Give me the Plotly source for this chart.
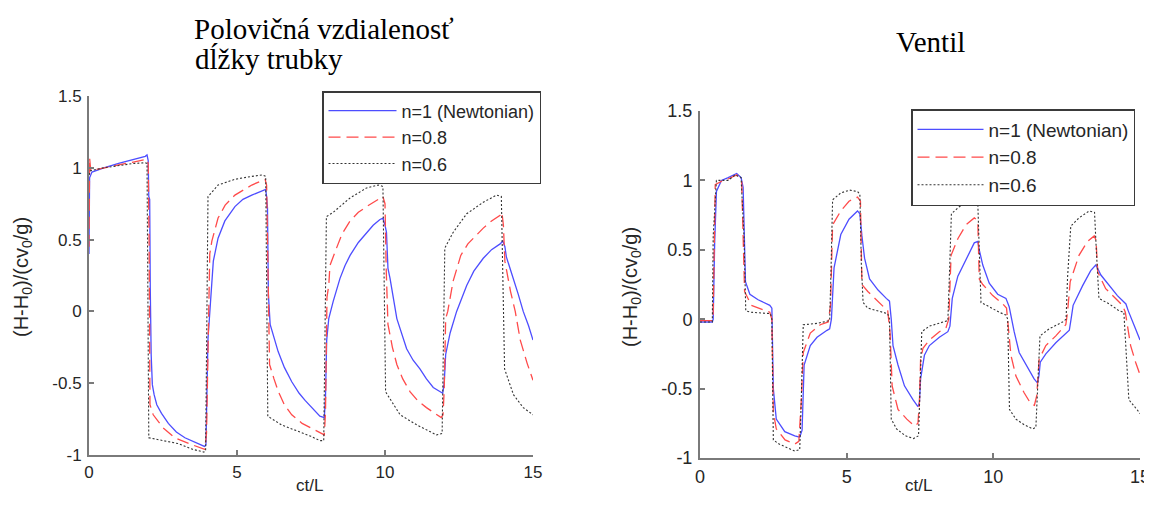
import plotly.graph_objects as go

# The page adds an 8px body margin, so the figure is drawn 8px in and 8px down.
OFF = 8
REF_W, REF_H = 1152, 505
FW, FH = REF_W - OFF, REF_H - 2 * OFF


def px(x):
    return (x - OFF) / FW


def py(y):
    return 1 - (y - OFF) / FH


# ---------------- data: left panel (half pipe length) ----------------
L_t_n1 = [0, 0.02, 0.1, 0.5, 1.0, 1.5, 1.9, 1.96, 2.0,
          2.02, 2.05, 2.07, 2.1, 2.14, 2.2, 2.29, 2.45, 2.68, 2.95, 3.24, 3.55, 3.9,
          3.95, 3.98, 4.02, 4.1, 4.2, 4.36, 4.59, 4.93, 5.2, 5.5, 5.89, 5.97,
          6.0, 6.03, 6.06, 6.12, 6.39, 6.6, 6.85, 7.1, 7.3, 7.64, 7.8, 7.95,
          7.99, 8.03, 8.1, 8.25, 8.48, 8.65, 8.82, 9.1, 9.38, 9.6, 9.83, 9.93,
          10.0, 10.05, 10.1, 10.17, 10.4, 10.55, 10.73, 10.95, 11.18, 11.4, 11.63, 11.95,
          12.0, 12.05, 12.2, 12.42, 12.6, 12.76, 13.0, 13.32, 13.6, 13.89, 13.98,
          14.05, 14.1, 14.34, 14.5, 14.67, 14.85, 15.0]
L_y_n1 = [0.4, 0.93, 0.97, 1.0, 1.03, 1.06, 1.08, 1.09, 1.05,
          0.8, 0.78, 0.16, -0.3, -0.51, -0.58, -0.65, -0.71, -0.78, -0.84, -0.88, -0.91, -0.94,
          -0.93, -0.6, -0.19, 0.05, 0.35, 0.51, 0.63, 0.73, 0.78, 0.81, 0.84, 0.85,
          0.8, 0.72, 0.12, -0.09, -0.28, -0.39, -0.49, -0.57, -0.62, -0.69, -0.73, -0.74,
          -0.6, -0.2, -0.05, 0.07, 0.23, 0.32, 0.39, 0.48, 0.55, 0.6, 0.64, 0.65,
          0.6, 0.55, 0.3, 0.23, -0.05, -0.15, -0.26, -0.34, -0.4, -0.47, -0.53, -0.57,
          -0.5, -0.3, -0.15, 0.0, 0.1, 0.18, 0.28, 0.37, 0.43, 0.47, 0.49,
          0.45, 0.38, 0.23, 0.12, 0.0, -0.1, -0.2]

L_t_n08 = [0, 0.02, 0.06, 0.5, 1.0, 1.5, 1.95, 2.0,
           2.03, 2.06, 2.17, 2.5, 2.9, 3.5, 3.91,
           3.97, 4.02, 4.08, 4.15, 4.36, 4.6, 4.93, 5.5, 5.95,
           6.0, 6.04, 6.1, 6.25, 6.4, 6.6, 6.85, 7.2, 7.64, 7.95,
           7.99, 8.04, 8.1, 8.14, 8.36, 8.55, 8.82, 9.1, 9.38, 9.83, 9.93,
           10.0, 10.04, 10.1, 10.25, 10.4, 10.6, 10.85, 11.1, 11.4, 11.9, 11.96,
           12.0, 12.05, 12.12, 12.3, 12.56, 12.8, 13.08, 13.32, 13.6, 13.89, 13.95,
           14.0, 14.05, 14.24, 14.4, 14.57, 14.8, 15.0]
L_y_n08 = [0.45, 1.07, 0.98, 1.0, 1.02, 1.04, 1.06, 1.03,
           0.5, -0.65, -0.72, -0.81, -0.88, -0.93, -0.96,
           -0.85, -0.2, 0.4, 0.49, 0.65, 0.74, 0.81, 0.88, 0.92,
           0.88, 0.3, -0.37, -0.47, -0.56, -0.65, -0.72, -0.78, -0.83, -0.86,
           -0.7, 0.1, 0.18, 0.32, 0.44, 0.54, 0.63, 0.69, 0.73, 0.79, 0.8,
           0.75, 0.3, -0.09, -0.25, -0.37, -0.47, -0.56, -0.62, -0.67, -0.74, -0.72,
           -0.55, -0.05, 0.0, 0.21, 0.39, 0.47, 0.53, 0.58, 0.63, 0.67, 0.69,
           0.6, 0.35, 0.14, 0.0, -0.2, -0.36, -0.48]

L_t_n06 = [0, 0.05, 0.5, 1.0, 1.5, 1.9, 1.96,
           2.02, 2.5, 3.0, 3.5, 3.88, 3.94,
           4.02, 4.36, 4.93, 5.5, 5.85, 5.97,
           6.04, 6.5, 7.0, 7.5, 7.8, 7.93,
           8.02, 8.25, 8.82, 9.38, 9.78, 9.93,
           10.02, 10.51, 11.07, 11.74, 11.93,
           12.02, 12.3, 12.76, 13.32, 13.77, 13.93,
           14.04, 14.34, 14.67, 15.0]
L_y_n06 = [0.95, 0.98, 1.0, 1.015, 1.03, 1.035, 1.03,
           -0.88, -0.9, -0.92, -0.96, -0.98, -0.97,
           0.8, 0.88, 0.92, 0.94, 0.95, 0.94,
           -0.73, -0.79, -0.83, -0.87, -0.9, -0.9,
           0.66, 0.69, 0.79, 0.86, 0.88, 0.87,
           -0.56, -0.72, -0.79, -0.86, -0.85,
           0.44, 0.55, 0.68, 0.76, 0.81, 0.8,
           -0.4, -0.58, -0.67, -0.72]

# ---------------- data: right panel (valve) ----------------
R_t_n1 = [0, 0.42, 0.45, 0.5, 0.56, 0.73, 0.96, 1.25, 1.4, 1.47,
          1.55, 1.70, 1.98, 2.38, 2.45, 2.5, 2.6, 2.89, 3.23, 3.4,
          3.48, 3.55, 3.76, 3.99, 4.33, 4.42, 4.48, 4.57, 4.8, 5.08, 5.37,
          5.45, 5.52, 5.61, 5.78, 6.07, 6.35, 6.46, 6.52, 6.58, 6.75, 6.97,
          7.26, 7.43, 7.48, 7.52, 7.65, 7.82, 8.16, 8.45, 8.52, 8.6, 8.79,
          9.07, 9.35, 9.47, 9.52, 9.64, 9.86, 10.15, 10.43, 10.54, 10.62,
          10.71, 10.88, 11.11, 11.39, 11.51, 11.56, 11.6, 11.79, 12.13,
          12.47, 12.59, 12.65, 12.72, 13.04, 13.32, 13.49, 13.55, 13.66,
          13.95, 14.23, 14.52, 14.6, 14.85, 15.0]
R_y_n1 = [-0.02, -0.02, 0.0, 0.55, 0.92, 1.0, 1.02, 1.05, 1.02, 0.95,
          0.27, 0.18, 0.14, 0.1, 0.08, -0.5, -0.72, -0.81, -0.84, -0.85,
          -0.8, -0.33, -0.19, -0.13, -0.08, -0.07, 0.0, 0.37, 0.61, 0.72, 0.78,
          0.76, 0.6, 0.44, 0.29, 0.21, 0.15, 0.13, 0.0, -0.19, -0.33, -0.48,
          -0.58, -0.63, -0.6, -0.43, -0.26, -0.19, -0.13, -0.09, -0.05, 0.15, 0.31,
          0.43, 0.55, 0.56, 0.5, 0.39, 0.26, 0.18, 0.15, 0.09, 0.0,
          -0.09, -0.24, -0.33, -0.43, -0.46, -0.4, -0.31, -0.25, -0.17,
          -0.1, -0.08, 0.0, 0.1, 0.24, 0.35, 0.39, 0.37, 0.32,
          0.24, 0.17, 0.11, 0.06, -0.07, -0.15]

R_t_n08 = [0, 0.42, 0.45, 0.5, 0.52, 0.7, 0.96, 1.25, 1.42, 1.47,
           1.52, 1.75, 2.38, 2.45, 2.5, 2.6, 2.9, 3.23, 3.37, 3.45,
           3.52, 3.76, 4.1, 4.37, 4.45, 4.52, 4.8, 5.08, 5.37, 5.47,
           5.52, 5.72, 6.07, 6.4, 6.48, 6.55, 6.75, 7.05, 7.31, 7.43,
           7.48, 7.52, 7.6, 7.82, 8.16, 8.39, 8.48, 8.56, 8.79, 9.07,
           9.35, 9.47, 9.52, 9.64, 9.98, 10.32, 10.45, 10.49, 10.6, 10.77,
           11.05, 11.28, 11.4, 11.48, 11.56, 11.79, 12.13, 12.47, 12.53, 12.62,
           12.92, 13.21, 13.44, 13.5, 13.56, 13.83, 14.17, 14.4, 14.5, 14.57,
           14.68, 14.85, 15.0]
R_y_n08 = [-0.01, -0.01, 0.05, 0.7, 0.97, 0.99, 1.01, 1.04, 1.0, 0.6,
           0.2, 0.1, 0.05, 0.0, -0.67, -0.79, -0.87, -0.9, -0.88, -0.6,
           -0.24, -0.1, -0.04, -0.02, 0.1, 0.68, 0.78, 0.85, 0.88, 0.85,
           0.25, 0.2, 0.13, 0.06, -0.1, -0.48, -0.65, -0.72, -0.77, -0.75,
           -0.6, -0.29, -0.21, -0.15, -0.09, -0.06, 0.0, 0.46, 0.58, 0.68,
           0.73, 0.71, 0.29, 0.25, 0.17, 0.11, 0.08, 0.0, -0.26, -0.41,
           -0.53, -0.61, -0.62, -0.55, -0.29, -0.19, -0.12, -0.04, 0.05, 0.27,
           0.46, 0.56, 0.6, 0.57, 0.34, 0.22, 0.15, 0.1, 0.05, -0.05,
           -0.19, -0.31, -0.4]

R_t_n06 = [0, 0.42, 0.45, 0.56, 0.96, 1.2, 1.4, 1.5, 1.56, 1.75,
           2.4, 2.45, 2.5, 2.7, 3.23, 3.4, 3.45, 3.52, 4.0, 4.42,
           4.46, 4.52, 4.8, 5.1, 5.37, 5.45, 5.5, 5.56, 5.72, 6.17,
           6.4, 6.46, 6.52, 6.7, 7.0, 7.28, 7.45, 7.5, 7.56, 7.82,
           8.28, 8.45, 8.5, 8.57, 8.84, 9.13, 9.35, 9.47, 9.52, 9.58,
           9.86, 10.2, 10.43, 10.49, 10.55, 10.77, 11.05, 11.34, 11.45, 11.51,
           11.59, 11.9, 12.36, 12.48, 12.53, 12.64, 12.92, 13.27, 13.45, 13.51,
           13.6, 13.95, 14.29, 14.45, 14.51, 14.62, 14.97, 15.0]
R_y_n06 = [-0.02, -0.02, 0.6, 1.0, 1.0, 1.04, 1.02, 0.6, 0.06, 0.05,
           0.04, 0.0, -0.87, -0.9, -0.95, -0.94, -0.6, -0.04, -0.03, -0.01,
           0.3, 0.86, 0.91, 0.93, 0.92, 0.9, 0.4, 0.12, 0.08, 0.05,
           0.04, 0.0, -0.72, -0.79, -0.84, -0.86, -0.84, -0.5, -0.09, -0.05,
           -0.02, -0.01, 0.3, 0.76, 0.81, 0.85, 0.86, 0.84, 0.5, 0.12,
           0.09, 0.05, 0.03, 0.0, -0.65, -0.72, -0.76, -0.79, -0.78, -0.5,
           -0.12, -0.07, -0.02, 0.0, 0.3, 0.67, 0.73, 0.78, 0.77, 0.5,
           0.15, 0.11, 0.06, 0.05, -0.2, -0.58, -0.67, -0.68]

series_names = ["n=1 (Newtonian)", "n=0.8", "n=0.6"]
x_tick_vals = [0, 5, 10, 15]
x_tick_text = ["0", "5", "10", "15"]
y_tick_vals = [-1, -0.5, 0, 0.5, 1, 1.5]
y_tick_text = ["-1", "-0.5", "0", "0.5", "1", "1.5"]

for a, b in [(L_t_n1, L_y_n1), (L_t_n08, L_y_n08), (L_t_n06, L_y_n06),
             (R_t_n1, R_y_n1), (R_t_n08, R_y_n08), (R_t_n06, R_y_n06)]:
    assert len(a) == len(b), (len(a), len(b))

# ---------------- styling ----------------
styles = [dict(color="#4d4dff", width=1.3, dash="solid"),
          dict(color="#ff4a4a", width=1.3, dash="12px,6px"),
          dict(color="#333333", width=1.1, dash="2px,2px")]

fig = go.Figure()
left = [(L_t_n1, L_y_n1), (L_t_n08, L_y_n08), (L_t_n06, L_y_n06)]
right = [(R_t_n1, R_y_n1), (R_t_n08, R_y_n08), (R_t_n06, R_y_n06)]
for i, (t, y) in enumerate(left):
    fig.add_trace(go.Scatter(x=t, y=y, mode="lines", name=series_names[i],
                             line=styles[i], xaxis="x", yaxis="y",
                             legend="legend", legendgroup="L%d" % i))
for i, (t, y) in enumerate(right):
    fig.add_trace(go.Scatter(x=t, y=y, mode="lines", name=series_names[i],
                             line=styles[i], xaxis="x2", yaxis="y2",
                             legend="legend2", legendgroup="R%d" % i))

FONT = "Liberation Sans, Arial, sans-serif"
SERIF = "Liberation Serif, Times New Roman, serif"
AX = "#7a7a7a"
TXT = "#262626"


def xax(domain, anchor, fs):
    return dict(domain=domain, anchor=anchor, range=[0, 15], tickmode="array",
                tickvals=x_tick_vals, ticktext=x_tick_text, ticks="inside",
                ticklen=5, tickcolor=AX, tickwidth=1.5, showline=True,
                linecolor=AX, linewidth=2, showgrid=False, zeroline=False,
                mirror=False, tickfont=dict(family=FONT, size=fs, color=TXT),
                ticklabelstandoff=1, automargin=False)


def yax(domain, anchor, fs):
    return dict(domain=domain, anchor=anchor, range=[-1, 1.5], tickmode="array",
                tickvals=y_tick_vals, ticktext=y_tick_text, ticks="inside",
                ticklen=5, tickcolor=AX, tickwidth=1.5, showline=True,
                linecolor=AX, linewidth=2, showgrid=False, zeroline=False,
                mirror=False, tickfont=dict(family=FONT, size=fs, color=TXT),
                ticklabelstandoff=2, automargin=False)


def legend_style(fs, iw):
    return dict(bgcolor="white", bordercolor="#3a3a3a", borderwidth=1.5,
                font=dict(family=FONT, size=fs, color=TXT),
                xanchor="left", yanchor="top", itemwidth=iw,
                tracegroupgap=0, traceorder="grouped")


fig.update_layout(
    width=FW, height=FH, margin=dict(l=0, r=0, t=0, b=0, autoexpand=False),
    paper_bgcolor="white", plot_bgcolor="white",
    xaxis=xax([px(89), px(533)], "y", 17),
    yaxis=yax([py(455), py(96)], "x", 17),
    xaxis2=xax([px(700), px(1140)], "y2", 18),
    yaxis2=yax([py(458), py(111)], "x2", 18),
    legend=dict(x=px(322), y=py(91), **legend_style(18, 68)),
    legend2=dict(x=px(911), y=py(109), **legend_style(19, 66)),
    showlegend=True,
)

ytitle = "(H-H<sub>0</sub>)/(cv<sub>0</sub>/g)"
annos = [
    dict(text="Polovičná vzdialenosť", x=px(192), y=py(29), xanchor="left",
         yanchor="middle", font=dict(family=SERIF, size=29, color="black")),
    dict(text="dĺžky trubky", x=px(193), y=py(59), xanchor="left",
         yanchor="middle", font=dict(family=SERIF, size=29, color="black")),
    dict(text="Ventil", x=px(930), y=py(42), xanchor="center",
         yanchor="middle", font=dict(family=SERIF, size=29, color="black")),
    dict(text=ytitle, x=px(22), y=py(277), textangle=-90, xanchor="center",
         yanchor="middle", font=dict(family=FONT, size=20, color=TXT)),
    dict(text=ytitle, x=px(631), y=py(287), textangle=-90, xanchor="center",
         yanchor="middle", font=dict(family=FONT, size=20, color=TXT)),
    dict(text="ct/L", x=px(309), y=py(485), xanchor="center",
         yanchor="middle", font=dict(family=FONT, size=17, color=TXT)),
    dict(text="ct/L", x=px(918), y=py(485), xanchor="center",
         yanchor="middle", font=dict(family=FONT, size=17, color=TXT)),
]
for a in annos:
    a.update(xref="paper", yref="paper", showarrow=False)
fig.update_layout(annotations=annos)

fig.write_html("out.html")
